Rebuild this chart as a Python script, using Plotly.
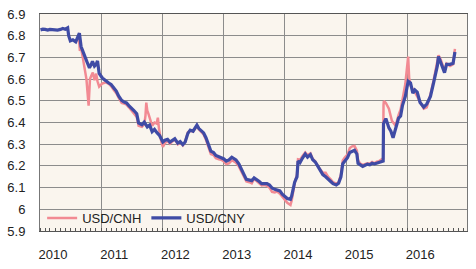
import plotly.graph_objects as go

# ---- data ----
cny_dates = [
    "2010-01-04","2010-01-18","2010-02-01","2010-02-16","2010-03-01","2010-03-16","2010-04-01","2010-04-16",
    "2010-05-03","2010-05-17","2010-06-01","2010-06-15","2010-06-21","2010-07-01","2010-07-16","2010-08-02",
    "2010-08-12","2010-08-24","2010-09-03","2010-09-13","2010-09-24","2010-10-03","2010-10-12","2010-10-23",
    "2010-11-03","2010-11-10","2010-11-22","2010-12-02","2010-12-10","2010-12-20",
    "2011-01-08","2011-01-30","2011-02-15","2011-03-01","2011-03-15","2011-04-01","2011-04-15","2011-05-03",
    "2011-05-16","2011-06-01","2011-06-15","2011-07-01","2011-07-15","2011-08-01","2011-08-12","2011-09-01",
    "2011-09-15","2011-10-03","2011-10-17","2011-11-01","2011-11-15","2011-12-01","2011-12-15",
    "2012-01-04","2012-01-16","2012-02-01","2012-02-15","2012-03-01","2012-03-15","2012-04-02","2012-04-16",
    "2012-05-02","2012-05-16","2012-06-01","2012-06-15","2012-07-02","2012-07-16","2012-07-25","2012-08-06",
    "2012-08-16","2012-09-03","2012-09-17","2012-10-01","2012-10-16","2012-11-01","2012-11-15","2012-12-03",
    "2012-12-17",
    "2013-01-02","2013-01-16","2013-02-01","2013-02-18","2013-03-01","2013-03-15","2013-04-01","2013-04-15",
    "2013-05-02","2013-05-16","2013-06-03","2013-06-17","2013-07-01","2013-07-15","2013-08-01","2013-08-15",
    "2013-09-02","2013-09-16","2013-10-01","2013-10-16","2013-11-01","2013-11-15","2013-12-02","2013-12-16",
    "2014-01-02","2014-01-15","2014-02-03","2014-02-10","2014-02-28","2014-03-14","2014-03-20","2014-04-01",
    "2014-04-15","2014-05-02","2014-05-16","2014-06-02","2014-06-16","2014-07-01","2014-07-15","2014-08-01",
    "2014-08-15","2014-09-01","2014-09-15","2014-10-01","2014-10-15","2014-11-03","2014-11-17","2014-12-01",
    "2014-12-12","2014-12-24",
    "2015-01-09","2015-01-23","2015-02-06","2015-02-20","2015-03-06","2015-03-13","2015-03-27","2015-04-10",
    "2015-04-24","2015-05-08","2015-05-22","2015-06-05","2015-06-19","2015-07-03","2015-07-17","2015-07-31",
    "2015-08-10","2015-08-12","2015-08-26","2015-09-13","2015-09-25","2015-10-08","2015-10-23","2015-11-10",
    "2015-11-22","2015-12-03","2015-12-20",
    "2016-01-06","2016-01-20","2016-02-03","2016-02-15","2016-02-29","2016-03-17","2016-04-08","2016-04-26",
    "2016-05-18","2016-06-06","2016-06-28","2016-07-05","2016-07-18","2016-08-10","2016-08-22","2016-09-12",
    "2016-09-30","2016-10-11",
]
cny_values = [
    6.827, 6.830, 6.829, 6.826, 6.829, 6.827, 6.828, 6.826,
    6.829, 6.833, 6.830, 6.836, 6.800, 6.776, 6.781, 6.772,
    6.790, 6.812, 6.750, 6.726, 6.705, 6.690, 6.672, 6.652,
    6.668, 6.682, 6.660, 6.668, 6.684, 6.626,
    6.605, 6.590, 6.582, 6.575, 6.560, 6.545, 6.522, 6.502,
    6.495, 6.490, 6.478, 6.468, 6.455, 6.440, 6.398, 6.390,
    6.402, 6.380, 6.388, 6.358, 6.368, 6.352, 6.340,
    6.310, 6.318, 6.322, 6.310, 6.318, 6.325, 6.305, 6.312,
    6.298, 6.310, 6.350, 6.365, 6.360, 6.375, 6.388, 6.372,
    6.365, 6.352, 6.330, 6.300, 6.268, 6.262, 6.248, 6.242,
    6.238,
    6.232, 6.222, 6.228, 6.240, 6.236, 6.228, 6.210, 6.190,
    6.160, 6.138, 6.135, 6.132, 6.145, 6.138, 6.128, 6.118,
    6.120, 6.118, 6.112, 6.098, 6.092, 6.090, 6.085, 6.070,
    6.060, 6.050, 6.046, 6.061, 6.125, 6.150, 6.222, 6.215,
    6.235, 6.255, 6.240, 6.252, 6.228, 6.218, 6.200, 6.180,
    6.160, 6.150, 6.138, 6.128, 6.118, 6.112, 6.120, 6.150,
    6.210, 6.222,
    6.238, 6.262, 6.268, 6.272, 6.255, 6.212, 6.205, 6.198,
    6.203, 6.208, 6.205, 6.212, 6.209, 6.213, 6.216, 6.220,
    6.222, 6.395, 6.418, 6.375, 6.360, 6.330, 6.368, 6.420,
    6.430, 6.478, 6.520,
    6.590, 6.582, 6.535, 6.550, 6.540, 6.492, 6.471, 6.485,
    6.520, 6.584, 6.661, 6.704, 6.675, 6.630, 6.668, 6.668,
    6.673, 6.725,
]

cnh_dates = [
    "2010-08-16","2010-08-24","2010-08-27","2010-09-03","2010-09-13","2010-09-24","2010-10-05","2010-10-18",
    "2010-10-26","2010-11-03","2010-11-12","2010-11-22","2010-12-02","2010-12-10","2010-12-20",
    "2011-01-08","2011-01-30","2011-02-15","2011-03-01","2011-03-15","2011-04-01","2011-04-15","2011-05-03",
    "2011-05-16","2011-06-01","2011-06-15","2011-07-01","2011-07-15","2011-08-01","2011-08-12","2011-09-01",
    "2011-09-15","2011-09-22","2011-09-27","2011-10-03","2011-10-10","2011-10-20","2011-11-01","2011-11-15",
    "2011-11-28","2011-12-05","2011-12-12","2011-12-26",
    "2012-01-04","2012-01-16","2012-02-01","2012-02-15","2012-03-01","2012-03-15","2012-04-02","2012-04-16",
    "2012-05-02","2012-05-16","2012-06-01","2012-06-15","2012-07-02","2012-07-16","2012-07-25","2012-08-06",
    "2012-08-16","2012-09-03","2012-09-17","2012-10-01","2012-10-16","2012-11-01","2012-11-15","2012-12-03",
    "2012-12-17",
    "2013-01-02","2013-01-16","2013-02-01","2013-02-18","2013-03-01","2013-03-15","2013-04-01","2013-04-15",
    "2013-05-02","2013-05-16","2013-06-03","2013-06-17","2013-07-01","2013-07-15","2013-08-01","2013-08-15",
    "2013-09-02","2013-09-16","2013-10-01","2013-10-16","2013-11-01","2013-11-15","2013-12-02","2013-12-16",
    "2014-01-02","2014-01-15","2014-02-03","2014-02-10","2014-02-28","2014-03-14","2014-03-20","2014-04-01",
    "2014-04-15","2014-05-02","2014-05-16","2014-06-02","2014-06-16","2014-07-01","2014-07-15","2014-08-01",
    "2014-08-15","2014-09-01","2014-09-15","2014-10-01","2014-10-15","2014-11-03","2014-11-17","2014-12-01",
    "2014-12-12","2014-12-24",
    "2015-01-09","2015-01-23","2015-02-06","2015-02-20","2015-03-06","2015-03-13","2015-03-27","2015-04-10",
    "2015-04-24","2015-05-08","2015-05-22","2015-06-05","2015-06-19","2015-07-03","2015-07-17","2015-07-31",
    "2015-08-10","2015-08-12","2015-08-14","2015-08-26","2015-09-13","2015-10-01","2015-10-23","2015-11-10",
    "2015-11-22","2015-12-03","2015-12-20",
    "2016-01-06","2016-01-12","2016-01-20","2016-02-03","2016-02-15","2016-02-29","2016-03-17","2016-04-08",
    "2016-04-26","2016-05-18","2016-06-06","2016-06-28","2016-07-05","2016-07-18","2016-08-10","2016-08-22",
    "2016-09-12","2016-09-30","2016-10-11",
]
cnh_values = [
    6.790, 6.760, 6.730, 6.745, 6.700, 6.640, 6.600, 6.478,
    6.600, 6.615, 6.630, 6.595, 6.625, 6.590, 6.565,
    6.580, 6.585, 6.578, 6.568, 6.552, 6.535, 6.515, 6.490,
    6.488, 6.482, 6.470, 6.455, 6.445, 6.425, 6.385, 6.380,
    6.392, 6.430, 6.492, 6.455, 6.440, 6.410, 6.385, 6.400,
    6.395, 6.422, 6.370, 6.310,
    6.288, 6.305, 6.315, 6.302, 6.312, 6.322, 6.300, 6.310,
    6.295, 6.312, 6.355, 6.362, 6.358, 6.378, 6.385, 6.368,
    6.360, 6.345, 6.320, 6.290, 6.255, 6.250, 6.235, 6.230,
    6.228,
    6.220, 6.208, 6.212, 6.225, 6.222, 6.215, 6.198, 6.178,
    6.150, 6.128, 6.125, 6.120, 6.140, 6.130, 6.118, 6.110,
    6.112, 6.108, 6.100, 6.080, 6.078, 6.082, 6.072, 6.058,
    6.045, 6.030, 6.020, 6.040, 6.120, 6.160, 6.230, 6.228,
    6.245, 6.262, 6.250, 6.258, 6.232, 6.220, 6.200, 6.185,
    6.168, 6.168, 6.150, 6.138, 6.125, 6.118, 6.125, 6.160,
    6.225, 6.238,
    6.252, 6.282, 6.290, 6.292, 6.270, 6.225, 6.210, 6.205,
    6.208, 6.212, 6.210, 6.218, 6.212, 6.220, 6.222, 6.228,
    6.235, 6.480, 6.499, 6.490, 6.464, 6.408, 6.385, 6.435,
    6.460, 6.505, 6.577,
    6.704, 6.605, 6.570, 6.555, 6.540, 6.520, 6.495, 6.464,
    6.470, 6.530, 6.595, 6.690, 6.710, 6.690, 6.640, 6.672,
    6.660, 6.668, 6.739,
]

year_ticks = ["2010-01-01", "2011-01-01", "2012-01-01", "2013-01-01",
              "2014-01-01", "2015-01-01", "2016-01-01"]
year_labels = ["2010", "2011", "2012", "2013", "2014", "2015", "2016"]
y_ticks = [5.9, 6.0, 6.1, 6.2, 6.3, 6.4, 6.5, 6.6, 6.7, 6.8, 6.9]
y_labels = ["5.9", "6", "6.1", "6.2", "6.3", "6.4", "6.5", "6.6", "6.7", "6.8", "6.9"]

assert len(cny_dates) == len(cny_values)
assert len(cnh_dates) == len(cnh_values)

FONT = "Arial, 'Liberation Sans', sans-serif"

fig = go.Figure()
fig.add_trace(go.Scatter(x=cnh_dates, y=cnh_values, mode="lines", name="USD/CNH",
                         line=dict(color="#F28A93", width=2.5)))
fig.add_trace(go.Scatter(x=cny_dates, y=cny_values, mode="lines", name="USD/CNY",
                         line=dict(color="#3F4BA5", width=3.2)))

fig.update_layout(
    width=476, height=269,
    margin=dict(l=36, r=9, t=7, b=26),
    paper_bgcolor="white",
    plot_bgcolor="#FAF5EE",
    font=dict(family=FONT, size=13, color="#222222"),
    showlegend=True,
    legend=dict(orientation="h", x=0.005, y=0.06, xanchor="left", yanchor="middle",
                bgcolor="rgba(0,0,0,0)", font=dict(size=13, color="#222222"),
                itemwidth=30, tracegroupgap=0),
)
fig.update_xaxes(
    type="date", range=["2010-01-01", "2016-12-22"],
    tickmode="array", tickvals=year_ticks, ticktext=year_labels,
    showgrid=True, gridcolor="#8C8C8C", gridwidth=1,
    showline=True, linecolor="#555555", linewidth=1, mirror=True,
    ticks="", ticklabelshift=13, ticklabelstandoff=11,
    minor=dict(dtick="M1", ticks="inside", ticklen=3, tickcolor="#555555", showgrid=False),
    zeroline=False,
)
fig.update_yaxes(
    range=[5.9, 6.9], tickmode="array", tickvals=y_ticks, ticktext=y_labels,
    showgrid=True, gridcolor="#8C8C8C", gridwidth=1,
    showline=True, linecolor="#777777", linewidth=1, mirror=True,
    ticks="", ticklabelstandoff=11, zeroline=False,
)

fig.write_html("out.html")
